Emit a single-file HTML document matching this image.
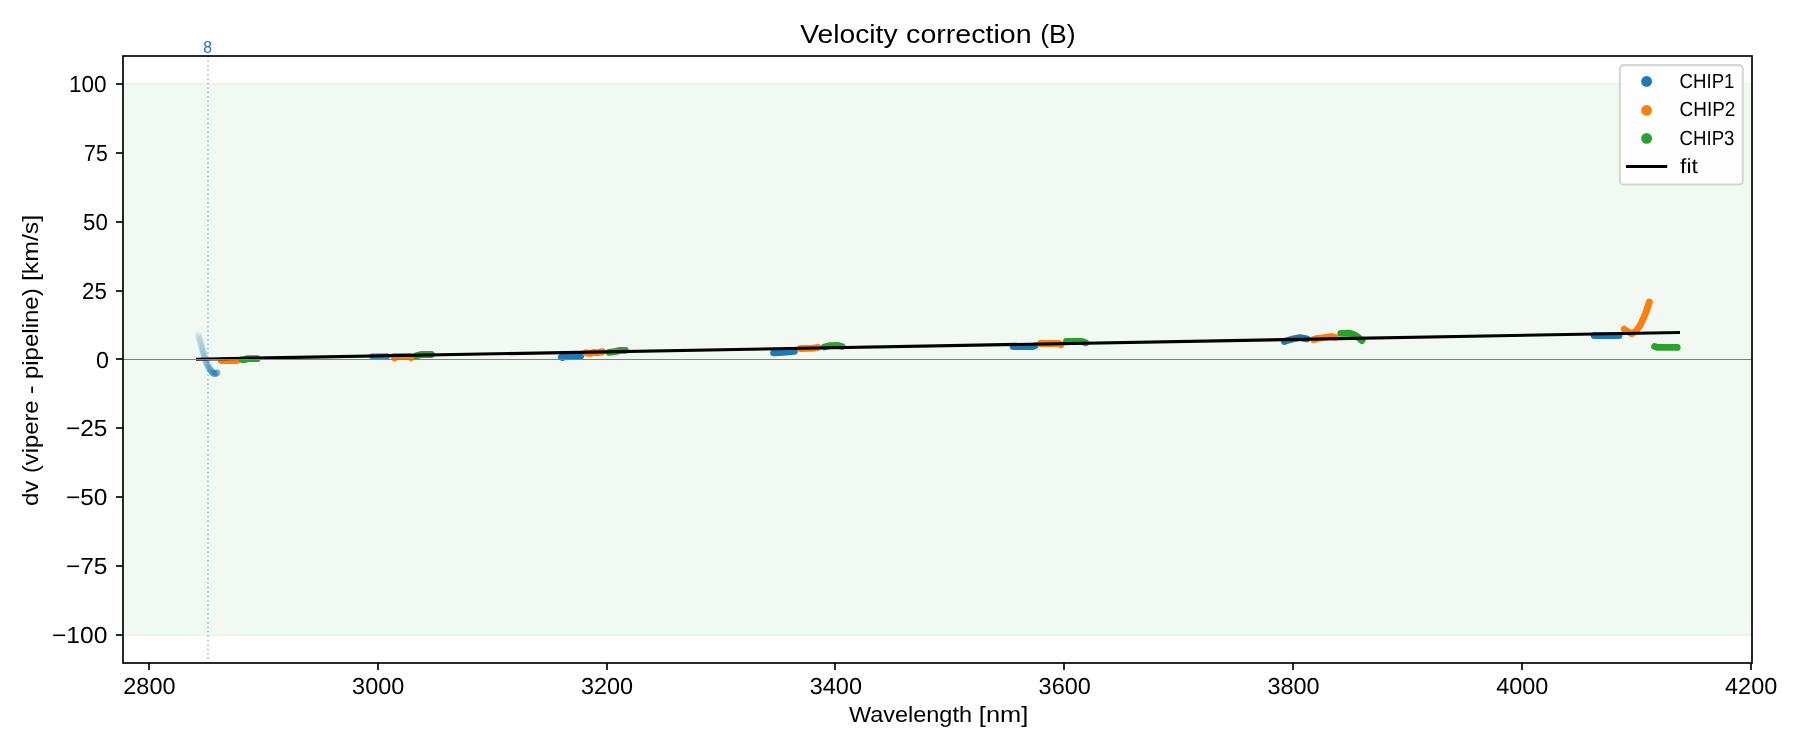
<!DOCTYPE html>
<html lang="en">
<head>
<meta charset="utf-8">
<title>Velocity correction (B)</title>
<style>
html,body{margin:0;padding:0;background:#ffffff;}
body{width:1800px;height:750px;overflow:hidden;font-family:"Liberation Sans",sans-serif;}
svg{display:block;will-change:transform;}
text{font-family:"Liberation Sans",sans-serif;fill:#000;}
.tick{font-size:23.2px;text-rendering:geometricPrecision;}
.lab{font-size:22.1px;}
.ttl{font-size:26.5px;}
.leg{font-size:20.5px;text-rendering:geometricPrecision;}
</style>
</head>
<body>
<svg width="1800" height="750" viewBox="0 0 1800 750">
<rect x="0" y="0" width="1800" height="750" fill="#ffffff"/>
<!-- +/-100 km/s band -->
<rect x="123" y="83.59" width="1629" height="551.82" fill="#008000" fill-opacity="0.05" stroke="#008000" stroke-opacity="0.05" stroke-width="2.08"/>
<!-- flagged order marker -->
<line x1="208" y1="56.2" x2="208" y2="663" stroke="#1f77b4" stroke-opacity="0.4" stroke-width="1.67" stroke-dasharray="1.67 2.75"/>
<!-- down-weighted CHIP1 points -->
<g fill="#1f77b4">
<circle cx="198.3" cy="334.4" r="3.4" fill-opacity="0.048"/><circle cx="198.6" cy="335.5" r="3.4" fill-opacity="0.050"/><circle cx="198.9" cy="336.7" r="3.4" fill-opacity="0.052"/><circle cx="199.2" cy="337.8" r="3.4" fill-opacity="0.053"/><circle cx="199.5" cy="338.9" r="3.4" fill-opacity="0.055"/><circle cx="199.8" cy="340.0" r="3.4" fill-opacity="0.057"/><circle cx="200.1" cy="341.1" r="3.4" fill-opacity="0.059"/><circle cx="200.4" cy="342.2" r="3.4" fill-opacity="0.060"/><circle cx="200.7" cy="343.3" r="3.4" fill-opacity="0.062"/><circle cx="201.0" cy="344.4" r="3.4" fill-opacity="0.065"/><circle cx="201.3" cy="345.5" r="3.4" fill-opacity="0.068"/><circle cx="201.6" cy="346.7" r="3.4" fill-opacity="0.071"/><circle cx="201.9" cy="347.8" r="3.4" fill-opacity="0.074"/><circle cx="202.2" cy="348.9" r="3.4" fill-opacity="0.076"/><circle cx="202.5" cy="350.0" r="3.4" fill-opacity="0.079"/><circle cx="202.8" cy="351.1" r="3.4" fill-opacity="0.081"/><circle cx="203.1" cy="352.1" r="3.4" fill-opacity="0.083"/><circle cx="203.4" cy="353.2" r="3.4" fill-opacity="0.084"/><circle cx="203.7" cy="354.2" r="3.4" fill-opacity="0.085"/><circle cx="204.0" cy="355.2" r="3.4" fill-opacity="0.087"/><circle cx="204.3" cy="356.2" r="3.4" fill-opacity="0.090"/><circle cx="204.6" cy="357.2" r="3.4" fill-opacity="0.092"/><circle cx="204.9" cy="358.2" r="3.4" fill-opacity="0.094"/><circle cx="205.2" cy="359.1" r="3.4" fill-opacity="0.095"/><circle cx="205.5" cy="360.1" r="3.4" fill-opacity="0.095"/><circle cx="205.8" cy="361.0" r="3.4" fill-opacity="0.095"/><circle cx="206.1" cy="361.9" r="3.4" fill-opacity="0.093"/><circle cx="206.4" cy="362.7" r="3.4" fill-opacity="0.090"/><circle cx="206.7" cy="363.4" r="3.4" fill-opacity="0.085"/><circle cx="207.0" cy="364.1" r="3.4" fill-opacity="0.083"/><circle cx="207.3" cy="364.8" r="3.4" fill-opacity="0.082"/><circle cx="207.6" cy="365.4" r="3.4" fill-opacity="0.083"/><circle cx="207.9" cy="366.0" r="3.4" fill-opacity="0.083"/><circle cx="208.2" cy="366.5" r="3.4" fill-opacity="0.084"/><circle cx="208.5" cy="367.0" r="3.4" fill-opacity="0.084"/><circle cx="208.8" cy="367.5" r="3.4" fill-opacity="0.085"/><circle cx="209.1" cy="368.0" r="3.4" fill-opacity="0.085"/><circle cx="209.4" cy="368.5" r="3.4" fill-opacity="0.086"/><circle cx="209.7" cy="368.9" r="3.4" fill-opacity="0.087"/><circle cx="210.0" cy="369.3" r="3.4" fill-opacity="0.088"/><circle cx="210.3" cy="369.7" r="3.4" fill-opacity="0.090"/><circle cx="210.6" cy="370.1" r="3.4" fill-opacity="0.095"/><circle cx="210.9" cy="370.6" r="3.4" fill-opacity="0.100"/><circle cx="211.2" cy="371.0" r="3.4" fill-opacity="0.104"/><circle cx="211.5" cy="371.4" r="3.4" fill-opacity="0.107"/><circle cx="211.8" cy="371.8" r="3.4" fill-opacity="0.108"/><circle cx="212.1" cy="372.2" r="3.4" fill-opacity="0.109"/><circle cx="212.4" cy="372.5" r="3.4" fill-opacity="0.108"/><circle cx="212.7" cy="372.8" r="3.4" fill-opacity="0.106"/><circle cx="213.0" cy="373.1" r="3.4" fill-opacity="0.102"/><circle cx="213.3" cy="373.3" r="3.4" fill-opacity="0.099"/><circle cx="213.6" cy="373.5" r="3.4" fill-opacity="0.095"/><circle cx="213.9" cy="373.6" r="3.4" fill-opacity="0.094"/><circle cx="214.2" cy="373.6" r="3.4" fill-opacity="0.097"/><circle cx="214.5" cy="373.6" r="3.4" fill-opacity="0.097"/><circle cx="214.8" cy="373.6" r="3.4" fill-opacity="0.097"/><circle cx="215.1" cy="373.6" r="3.4" fill-opacity="0.097"/><circle cx="215.4" cy="373.5" r="3.4" fill-opacity="0.098"/><circle cx="215.7" cy="373.4" r="3.4" fill-opacity="0.100"/><circle cx="216.0" cy="373.3" r="3.4" fill-opacity="0.102"/><circle cx="216.3" cy="373.2" r="3.4" fill-opacity="0.105"/><circle cx="216.6" cy="373.1" r="3.4" fill-opacity="0.110"/><circle cx="216.9" cy="372.9" r="3.4" fill-opacity="0.116"/><circle cx="217.2" cy="372.7" r="3.4" fill-opacity="0.123"/><circle cx="217.5" cy="372.4" r="3.4" fill-opacity="0.127"/>
</g>
<!-- data points -->
<g fill="none" stroke-width="6.8" stroke-linecap="round" stroke-linejoin="round">
<polyline stroke="#ff7f0e" points="221.3,360.6 236.7,360.6"/>
<polyline stroke="#2ca02c" points="242.1,359.7 245,359.6 247,358.7 257.1,358.6"/>
<polyline stroke="#1f77b4" stroke-width="5.6" stroke-opacity="0.85" points="371.7,356.2 387.4,356.15"/>
<polyline stroke="#ff7f0e" points="394.2,356.4 394.6,358 395.4,356.4 410.2,356.3 411.2,357.6"/>
<polyline stroke="#2ca02c" points="416.6,355.6 419,355.2 421,354.5 431.4,354.5"/>
<polyline stroke="#1f77b4" points="561.4,357 562.6,357.5 564,356.9 580.6,356.2"/>
<polyline stroke="#ff7f0e" points="585.8,352.8 590,353.4 594,352.4 598,352.6 602.6,351.6"/>
<polyline stroke="#2ca02c" points="609,352.4 615,351.6 620,350.4 625.4,350.4"/>
<polyline stroke="#1f77b4" points="773.6,352.9 780,352.7 794.4,351.3"/>
<polyline stroke="#ff7f0e" points="800.4,348.5 812,348.4 818,347.4"/>
<polyline stroke="#2ca02c" points="824.4,347 830,345.6 838,345.4 842,346.6"/>
<polyline stroke="#1f77b4" points="1013.2,346.5 1033.2,346.5 1034.8,345.8"/>
<polyline stroke="#ff7f0e" points="1040.4,343.5 1059.4,343.5 1061,344.7"/>
<polyline stroke="#2ca02c" points="1066.4,341.4 1082,341.4 1084,342.2 1085.7,342.8"/>
<polyline stroke="#1f77b4" points="1284.4,341.5 1288,340.2 1292,339.2 1296,338.4 1300.4,337.6 1304,338.3 1306.8,338.8"/>
<polyline stroke="#ff7f0e" points="1313.6,339.6 1318,338.4 1324,337.5 1331.6,336.5 1335.2,337.4"/>
<polyline stroke="#2ca02c" points="1340.8,333.4 1350,333.2 1354,334.6 1358,337.2 1362,340.6"/>
<polyline stroke="#1f77b4" points="1594.2,335.6 1619.1,335.6"/>
<polyline stroke="#ff7f0e" points="1624.2,329.2 1628,331.8 1631.8,333.7 1635.5,331.5 1639.5,326.5 1642.5,320.5 1645.3,314 1647.6,307.5 1649.4,301.9"/>
<polyline stroke="#2ca02c" points="1654.6,346.4 1657,347.3 1677.2,347.4"/>
</g>
<!-- fit -->
<line x1="196" y1="359.2" x2="1680" y2="332.5" stroke="#000" stroke-width="3.1"/>
<!-- zero line -->
<line x1="123" y1="359.5" x2="1752" y2="359.5" stroke="#808080" stroke-width="1.04"/>
<!-- axes -->
<rect x="123" y="56" width="1629" height="607" fill="none" stroke="#000" stroke-width="1.67"/>
<g stroke="#000" stroke-width="1.67">
<line x1="149" y1="663" x2="149" y2="670"/><line x1="378" y1="663" x2="378" y2="670"/><line x1="607" y1="663" x2="607" y2="670"/><line x1="835" y1="663" x2="835" y2="670"/><line x1="1064" y1="663" x2="1064" y2="670"/><line x1="1293" y1="663" x2="1293" y2="670"/><line x1="1522" y1="663" x2="1522" y2="670"/><line x1="1751" y1="663" x2="1751" y2="670"/>
<line x1="116" y1="635" x2="123" y2="635"/><line x1="116" y1="566" x2="123" y2="566"/><line x1="116" y1="497" x2="123" y2="497"/><line x1="116" y1="428" x2="123" y2="428"/><line x1="116" y1="359" x2="123" y2="359"/><line x1="116" y1="291" x2="123" y2="291"/><line x1="116" y1="222" x2="123" y2="222"/><line x1="116" y1="153" x2="123" y2="153"/><line x1="116" y1="84" x2="123" y2="84"/>
</g>
<g class="tick">
<text x="123.30" y="694.00" textLength="52.20" lengthAdjust="spacingAndGlyphs">2800</text>
<text x="352.12" y="694.00" textLength="52.20" lengthAdjust="spacingAndGlyphs">3000</text>
<text x="580.94" y="694.00" textLength="52.20" lengthAdjust="spacingAndGlyphs">3200</text>
<text x="809.76" y="694.00" textLength="52.20" lengthAdjust="spacingAndGlyphs">3400</text>
<text x="1038.58" y="694.00" textLength="52.20" lengthAdjust="spacingAndGlyphs">3600</text>
<text x="1267.40" y="694.00" textLength="52.20" lengthAdjust="spacingAndGlyphs">3800</text>
<text x="1496.22" y="694.00" textLength="52.20" lengthAdjust="spacingAndGlyphs">4000</text>
<text x="1725.04" y="694.00" textLength="52.20" lengthAdjust="spacingAndGlyphs">4200</text>
</g>
<g class="tick">
<text x="69.06" y="92.00" textLength="37.61" lengthAdjust="spacingAndGlyphs">100</text>
<text x="84.08" y="161.00" textLength="23.65" lengthAdjust="spacingAndGlyphs">75</text>
<text x="83.04" y="230.00" textLength="24.72" lengthAdjust="spacingAndGlyphs">50</text>
<text x="82.04" y="299.00" textLength="24.72" lengthAdjust="spacingAndGlyphs">25</text>
<text x="96.00" y="368.00" textLength="12.91" lengthAdjust="spacingAndGlyphs">0</text>
<text x="65.95" y="436.00" textLength="41.47" lengthAdjust="spacingAndGlyphs">−25</text>
<text x="65.95" y="505.00" textLength="41.41" lengthAdjust="spacingAndGlyphs">−50</text>
<text x="65.95" y="574.00" textLength="41.47" lengthAdjust="spacingAndGlyphs">−75</text>
<text x="51.94" y="643.00" textLength="55.37" lengthAdjust="spacingAndGlyphs">−100</text>
</g>
<g class="ttl">
<text x="800.20" y="43.00" textLength="97.35" lengthAdjust="spacingAndGlyphs">Velocity</text>
<text x="906.12" y="43.00" textLength="125.55" lengthAdjust="spacingAndGlyphs">correction</text>
<text x="1040.20" y="43.00" textLength="35.33" lengthAdjust="spacingAndGlyphs">(B)</text>
</g>
<g class="lab">
<text x="849.00" y="722.00" textLength="122.97" lengthAdjust="spacingAndGlyphs">Wavelength</text>
<text x="978.85" y="722.00" textLength="49.41" lengthAdjust="spacingAndGlyphs">[nm]</text>
</g>
<g class="lab" transform="rotate(-90)">
<text x="-506.09" y="38.00" textLength="25.47" lengthAdjust="spacingAndGlyphs">dv</text>
<text x="-473.08" y="38.00" textLength="72.66" lengthAdjust="spacingAndGlyphs">(vipere</text>
<text x="-394.20" y="38.00" textLength="8.83" lengthAdjust="spacingAndGlyphs">-</text>
<text x="-379.09" y="38.00" textLength="90.75" lengthAdjust="spacingAndGlyphs">pipeline)</text>
<text x="-281.12" y="38.00" textLength="66.29" lengthAdjust="spacingAndGlyphs">[km/s]</text>
</g>
<text x="207.5" y="52.5" text-anchor="middle" font-size="16.4" style="fill:#1f77b4" textLength="8.7" lengthAdjust="spacingAndGlyphs">8</text>
<!-- legend -->
<rect x="1619.9" y="65.1" width="122.9" height="119.4" rx="3.6" ry="3.6" fill="#ffffff" fill-opacity="0.8" stroke="#cccccc" stroke-opacity="0.8" stroke-width="2.08"/>
<circle cx="1646.6" cy="81.4" r="5.4" fill="#1f77b4"/>
<circle cx="1646.6" cy="110.4" r="5.4" fill="#ff7f0e"/>
<circle cx="1646.6" cy="138.4" r="5.4" fill="#2ca02c"/>
<line x1="1626" y1="166.5" x2="1667.2" y2="166.5" stroke="#000" stroke-width="3.2"/>
<g class="leg">
<text x="1679.60" y="88.00" textLength="54.85" lengthAdjust="spacingAndGlyphs">CHIP1</text>
<text x="1679.59" y="116.30" textLength="55.78" lengthAdjust="spacingAndGlyphs">CHIP2</text>
<text x="1679.60" y="144.70" textLength="54.85" lengthAdjust="spacingAndGlyphs">CHIP3</text>
<text x="1680.00" y="173.00" textLength="17.95" lengthAdjust="spacingAndGlyphs">fit</text>
</g>
</svg>
</body>
</html>
